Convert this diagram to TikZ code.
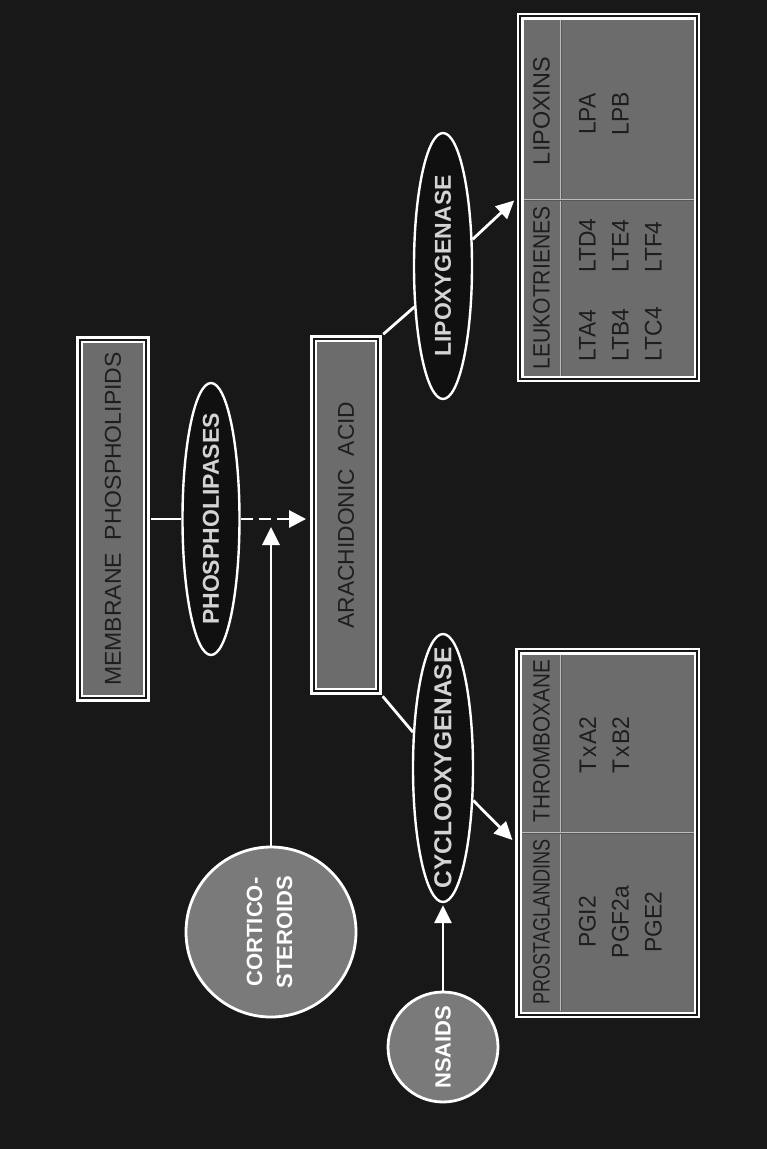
\documentclass[tikz,border=0pt]{standalone}
\usepackage{fontspec}
\setmainfont{Liberation Sans}
\usetikzlibrary{arrows.meta,shapes.geometric,calc}
\definecolor{bg}{HTML}{181818}
\definecolor{boxgray}{HTML}{6C6C6C}
\definecolor{circgray}{HTML}{7A7A7A}
\definecolor{darktxt}{HTML}{1E1E1E}
\definecolor{elltxt}{HTML}{D4D4D4}
\definecolor{ellfill}{HTML}{101010}
\definecolor{divcol}{HTML}{BDBDBD}
\newcommand{\rtxt}[1]{\rotatebox{90}{#1}}
\begin{document}
\begin{tikzpicture}[x=1pt,y=-1pt,
  boxframe/.style={rectangle, draw=white, line width=2.4pt, double=bg, double distance=2.2pt, fill=boxgray, inner sep=0pt, text=darktxt},
  tframe/.style={rectangle, draw=white, line width=2.2pt, double=bg, double distance=2pt, fill=boxgray, inner sep=0pt},
  enzyme/.style={ellipse, draw=white, line width=2.4pt, fill=ellfill, inner sep=0pt, text=elltxt, font=\fontsize{23}{23}\selectfont\bfseries},
  drug/.style={circle, draw=white, line width=2.8pt, fill=circgray, inner sep=0pt, text=white, font=\bfseries\fontsize{22}{30}\selectfont},
  conn/.style={draw=white, line width=2.8pt},
  arr/.style={conn, -{Triangle[length=18pt,width=17pt]}},
  divider/.style={draw=divcol, line width=0.9pt, double=boxgray!80!black, double distance=0.8pt},
  lbl/.style={inner sep=0pt, text=darktxt},
  bodytxt/.style={lbl, font=\fontsize{24}{33}\selectfont},
]
\fill[bg] (0,0) rectangle (767,1149);
\useasboundingbox (0,0) rectangle (767,1149);

% boxes
\node[boxframe, minimum width=66.5pt, minimum height=358.5pt] (mem) at (113,519)
  {\rtxt{\fontsize{23}{23}\selectfont MEMBRANE\ \ PHOSPHOLIPIDS}};
\node[boxframe, minimum width=64.5pt, minimum height=352.5pt] (ara) at (346,515)
  {\rtxt{\fontsize{22.8}{22.8}\selectfont ARACHIDONIC\ \ ACID}};

% enzymes
\node[enzyme, minimum width=57pt, minimum height=272pt] (phos) at (211,519)
  {\rtxt{\makebox[0pt]{PHOSPHOLIPASES}}};
\node[enzyme, minimum width=60pt, minimum height=268pt, font=\fontsize{24.5}{24.5}\selectfont\bfseries] (cox) at (443,768)
  {\rtxt{\makebox[0pt]{CYCLOOXYGENASE}}};
\node[enzyme, minimum width=58pt, minimum height=266pt] (lox) at (443,266)
  {\rtxt{\makebox[0pt]{LIPOXYGENASE}}};

% drugs
\node[drug, minimum size=170pt] (cort) at (271,932)
  {\rtxt{\begin{tabular}{@{}c@{}}CORTICO-\\STEROIDS\end{tabular}}};
\node[drug, minimum size=110pt] (nsaid) at (443,1047) {\rtxt{NSAIDS}};

% tables
\node[tframe, minimum width=178.5pt, minimum height=363.4pt] (ptab) at (607.75,833) {};
\node[tframe, minimum width=176.4pt, minimum height=362.4pt] (ltab) at (608.5,197.5) {};
\draw[divider] (561,654.6) -- (561,1011.4);
\draw[divider] (521.8,833) -- (693.7,833);
\draw[divider] (561,19.5) -- (561,375.5);
\draw[divider] (523.5,200) -- (693.5,200);

\node[lbl] (prosh) at (541.5,922) {\rtxt{\resizebox{165pt}{16.5pt}{PROSTAGLANDINS}}};
\node[lbl] (thrh) at (541.5,741) {\rtxt{\resizebox{162pt}{16.5pt}{THROMBOXANE}}};
\node[lbl] (leuh) at (541.5,288) {\rtxt{\resizebox{163pt}{16.5pt}{LEUKOTRIENES}}};
\node[lbl] (liph) at (541.5,111) {\rtxt{\resizebox{108pt}{16.5pt}{LIPOXINS}}};

\node[bodytxt] (prosb) at (622,922)
  {\rtxt{\scalebox{0.95}[1]{\begin{tabular}{@{}c@{}}PGI2\\PGF2a\\PGE2\end{tabular}}}};
\node[bodytxt] (thrb) at (606,745)
  {\rtxt{\scalebox{0.95}[1]{\begin{tabular}{@{}c@{}}T\kern1.5pt x\kern1.5pt A2\\T\kern1.5pt x\kern1.5pt B2\end{tabular}}}};
\node[bodytxt] (leub) at (622,290)
  {\rtxt{\scalebox{0.95}[1]{\begin{tabular}{@{}l@{\hspace{36pt}}l@{}}LTA4&LTD4\\LTB4&LTE4\\LTC4&LTF4\end{tabular}}}};
\node[bodytxt] (lipb) at (605.5,114)
  {\rtxt{\scalebox{0.95}[1]{\begin{tabular}{@{}c@{}}LPA\\LPB\end{tabular}}}};

% connectors
\coordinate (inh) at (271,527);
\draw[conn, shorten <=3.75pt] (mem.east) -- (phos.west);
\draw[conn, dash pattern=on 12pt off 6pt, -{Triangle[length=17pt,width=17pt]}, shorten >=6.5pt]
  (phos.east) -- (phos.east -| ara.west);
\draw[arr] (cort.north) -- (inh);
\draw[arr, shorten >=2pt] (nsaid.north) -- (cox.south);
\draw[conn, shorten <=5pt] (ara.south east) -- (cox.130);
\draw[arr] (cox.-47) -- ([shift={(-5,7)}]ptab.west);
\draw[conn, shorten <=5pt] (ara.north east) -- (lox.235);
\draw[arr] (lox.42) -- ([shift={(-5,3)}]ltab.west);
\end{tikzpicture}
\end{document}
